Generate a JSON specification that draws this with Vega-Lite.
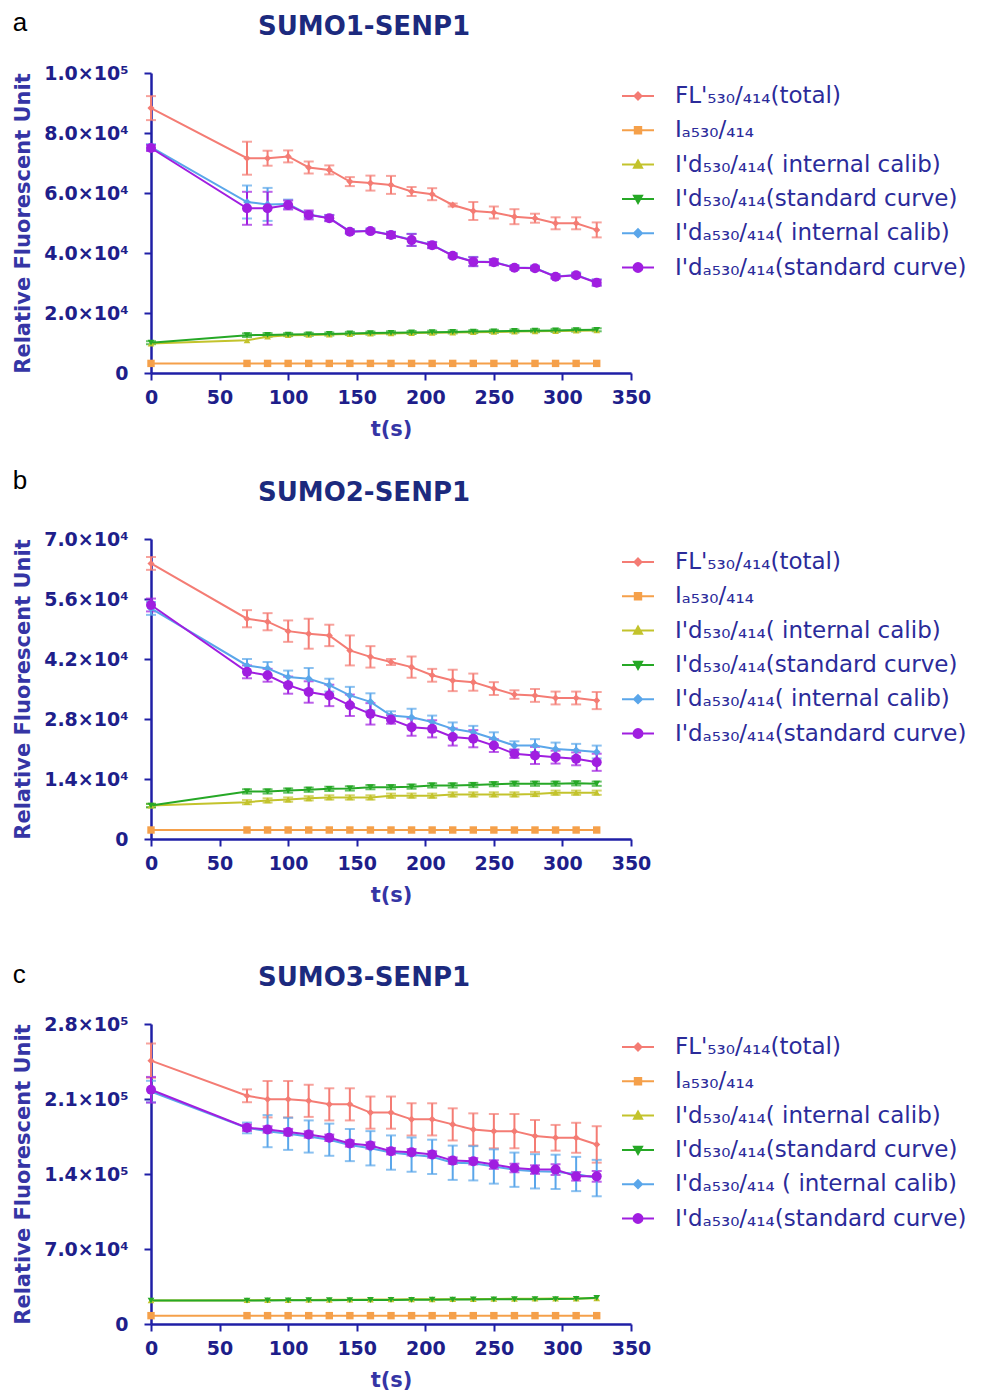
{
"$schema": "https://vega.github.io/schema/vega-lite/v6.json",
"padding": {"left": 12, "right": 0, "top": 10, "bottom": 0},
"background": "white",
"config": {
  "view": {"stroke": null},
  "axis": {"grid": false, "domainColor": "#1f1fa6", "domainWidth": 2.5, "tickColor": "#1f1fa6", "tickWidth": 2, "tickSize": 7, "labelFont": "DejaVu Sans", "labelFontWeight": "bold", "labelFontSize": 19, "labelColor": "#1e1e8a", "titleFont": "DejaVu Sans", "titleFontWeight": "bold", "titleFontSize": 21, "titleColor": "#3535a5"},
  "axisX": {"titlePadding": 11, "labelPadding": 8, "labelFlush": false},
  "axisY": {"titlePadding": 10, "labelPadding": 16},
  "legend": {"title": null, "orient": "right", "offset": -16, "padding": 6, "symbolSize": 1024, "symbolStrokeWidth": 2, "symbolType": "M-1,0L1,0M-0.28,0A0.28,0.28 0 1,0 0.28,0A0.28,0.28 0 1,0 -0.28,0Z", "rowPadding": 5.3, "labelFont": "DejaVu Sans", "labelFontSize": 23, "labelColor": "#2b2b9a", "labelOffset": 20, "labelLimit": 420}
},
"datasets": {
"a": [
{"s":"FL","t":0,"v":88300,"e":4000},{"s":"FL","t":70,"v":71600,"e":5500},{"s":"FL","t":85,"v":71600,"e":2500},{"s":"FL","t":100,"v":72200,"e":2000},{"s":"FL","t":115,"v":68500,"e":2000},{"s":"FL","t":130,"v":67700,"e":1500},{"s":"FL","t":145,"v":63800,"e":1500},{"s":"FL","t":160,"v":63300,"e":2500},{"s":"FL","t":175,"v":62700,"e":3000},{"s":"FL","t":190,"v":60500,"e":1500},{"s":"FL","t":205,"v":59600,"e":2000},{"s":"FL","t":220,"v":56000,"e":500},{"s":"FL","t":235,"v":54000,"e":3000},{"s":"FL","t":250,"v":53500,"e":2000},{"s":"FL","t":265,"v":52100,"e":2500},{"s":"FL","t":280,"v":51600,"e":1500},{"s":"FL","t":295,"v":49900,"e":2000},{"s":"FL","t":310,"v":49900,"e":2000},{"s":"FL","t":325,"v":47700,"e":2500},
{"s":"Ia","t":0,"v":3200,"e":0},{"s":"Ia","t":70,"v":3200,"e":0},{"s":"Ia","t":85,"v":3200,"e":0},{"s":"Ia","t":100,"v":3200,"e":0},{"s":"Ia","t":115,"v":3200,"e":0},{"s":"Ia","t":130,"v":3200,"e":0},{"s":"Ia","t":145,"v":3200,"e":0},{"s":"Ia","t":160,"v":3200,"e":0},{"s":"Ia","t":175,"v":3200,"e":0},{"s":"Ia","t":190,"v":3200,"e":0},{"s":"Ia","t":205,"v":3200,"e":0},{"s":"Ia","t":220,"v":3200,"e":0},{"s":"Ia","t":235,"v":3200,"e":0},{"s":"Ia","t":250,"v":3200,"e":0},{"s":"Ia","t":265,"v":3200,"e":0},{"s":"Ia","t":280,"v":3200,"e":0},{"s":"Ia","t":295,"v":3200,"e":0},{"s":"Ia","t":310,"v":3200,"e":0},{"s":"Ia","t":325,"v":3200,"e":0},
{"s":"Idi","t":0,"v":9800,"e":0},{"s":"Idi","t":70,"v":10900,"e":0},{"s":"Idi","t":85,"v":12100,"e":0},{"s":"Idi","t":100,"v":12600,"e":0},{"s":"Idi","t":115,"v":12700,"e":0},{"s":"Idi","t":130,"v":12800,"e":0},{"s":"Idi","t":145,"v":13000,"e":0},{"s":"Idi","t":160,"v":13100,"e":0},{"s":"Idi","t":175,"v":13200,"e":0},{"s":"Idi","t":190,"v":13300,"e":0},{"s":"Idi","t":205,"v":13400,"e":0},{"s":"Idi","t":220,"v":13500,"e":0},{"s":"Idi","t":235,"v":13600,"e":0},{"s":"Idi","t":250,"v":13700,"e":0},{"s":"Idi","t":265,"v":13800,"e":0},{"s":"Idi","t":280,"v":13900,"e":0},{"s":"Idi","t":295,"v":14000,"e":0},{"s":"Idi","t":310,"v":14100,"e":0},{"s":"Idi","t":325,"v":14200,"e":0},
{"s":"Ids","t":0,"v":10100,"e":500},{"s":"Ids","t":70,"v":12600,"e":600},{"s":"Ids","t":85,"v":12700,"e":600},{"s":"Ids","t":100,"v":12800,"e":500},{"s":"Ids","t":115,"v":12900,"e":500},{"s":"Ids","t":130,"v":13000,"e":500},{"s":"Ids","t":145,"v":13200,"e":500},{"s":"Ids","t":160,"v":13300,"e":500},{"s":"Ids","t":175,"v":13400,"e":500},{"s":"Ids","t":190,"v":13500,"e":500},{"s":"Ids","t":205,"v":13600,"e":500},{"s":"Ids","t":220,"v":13700,"e":500},{"s":"Ids","t":235,"v":13800,"e":500},{"s":"Ids","t":250,"v":13900,"e":500},{"s":"Ids","t":265,"v":14000,"e":500},{"s":"Ids","t":280,"v":14100,"e":500},{"s":"Ids","t":295,"v":14200,"e":500},{"s":"Ids","t":310,"v":14300,"e":500},{"s":"Ids","t":325,"v":14400,"e":500},
{"s":"Idai","t":0,"v":75300,"e":1000},{"s":"Idai","t":70,"v":57000,"e":5500},{"s":"Idai","t":85,"v":56200,"e":5500},{"s":"Idai","t":100,"v":56300,"e":1500},{"s":"Idai","t":115,"v":52800,"e":1000},{"s":"Idai","t":130,"v":51700,"e":1000},{"s":"Idai","t":145,"v":47200,"e":800},{"s":"Idai","t":160,"v":47400,"e":800},{"s":"Idai","t":175,"v":46100,"e":1000},{"s":"Idai","t":190,"v":44400,"e":2000},{"s":"Idai","t":205,"v":42700,"e":1000},{"s":"Idai","t":220,"v":39200,"e":800},{"s":"Idai","t":235,"v":37200,"e":1500},{"s":"Idai","t":250,"v":37000,"e":1000},{"s":"Idai","t":265,"v":35200,"e":800},{"s":"Idai","t":280,"v":35000,"e":800},{"s":"Idai","t":295,"v":32200,"e":800},{"s":"Idai","t":310,"v":32700,"e":800},{"s":"Idai","t":325,"v":30200,"e":1000},
{"s":"Idas","t":0,"v":75000,"e":1000},{"s":"Idas","t":70,"v":54900,"e":5500},{"s":"Idas","t":85,"v":54900,"e":5500},{"s":"Idas","t":100,"v":56000,"e":1500},{"s":"Idas","t":115,"v":52700,"e":1500},{"s":"Idas","t":130,"v":51600,"e":1000},{"s":"Idas","t":145,"v":47100,"e":500},{"s":"Idas","t":160,"v":47300,"e":500},{"s":"Idas","t":175,"v":46000,"e":1000},{"s":"Idas","t":190,"v":44300,"e":2000},{"s":"Idas","t":205,"v":42600,"e":1000},{"s":"Idas","t":220,"v":39100,"e":500},{"s":"Idas","t":235,"v":37100,"e":1500},{"s":"Idas","t":250,"v":36900,"e":1000},{"s":"Idas","t":265,"v":35100,"e":500},{"s":"Idas","t":280,"v":34900,"e":500},{"s":"Idas","t":295,"v":32100,"e":500},{"s":"Idas","t":310,"v":32600,"e":500},{"s":"Idas","t":325,"v":30100,"e":1000}
],
"b": [
{"s":"FL","t":0,"v":64300,"e":1500},{"s":"FL","t":70,"v":51400,"e":2000},{"s":"FL","t":85,"v":50700,"e":2000},{"s":"FL","t":100,"v":48500,"e":2500},{"s":"FL","t":115,"v":47900,"e":3500},{"s":"FL","t":130,"v":47500,"e":2500},{"s":"FL","t":145,"v":44000,"e":3500},{"s":"FL","t":160,"v":42500,"e":2500},{"s":"FL","t":175,"v":41300,"e":700},{"s":"FL","t":190,"v":40100,"e":2500},{"s":"FL","t":205,"v":38200,"e":1500},{"s":"FL","t":220,"v":37000,"e":2500},{"s":"FL","t":235,"v":36600,"e":2000},{"s":"FL","t":250,"v":35100,"e":1500},{"s":"FL","t":265,"v":33700,"e":1000},{"s":"FL","t":280,"v":33500,"e":1500},{"s":"FL","t":295,"v":32900,"e":1500},{"s":"FL","t":310,"v":32900,"e":1500},{"s":"FL","t":325,"v":32300,"e":2000},
{"s":"Ia","t":0,"v":2100,"e":0},{"s":"Ia","t":70,"v":2100,"e":0},{"s":"Ia","t":85,"v":2100,"e":0},{"s":"Ia","t":100,"v":2100,"e":0},{"s":"Ia","t":115,"v":2100,"e":0},{"s":"Ia","t":130,"v":2100,"e":0},{"s":"Ia","t":145,"v":2100,"e":0},{"s":"Ia","t":160,"v":2100,"e":0},{"s":"Ia","t":175,"v":2100,"e":0},{"s":"Ia","t":190,"v":2100,"e":0},{"s":"Ia","t":205,"v":2100,"e":0},{"s":"Ia","t":220,"v":2100,"e":0},{"s":"Ia","t":235,"v":2100,"e":0},{"s":"Ia","t":250,"v":2100,"e":0},{"s":"Ia","t":265,"v":2100,"e":0},{"s":"Ia","t":280,"v":2100,"e":0},{"s":"Ia","t":295,"v":2100,"e":0},{"s":"Ia","t":310,"v":2100,"e":0},{"s":"Ia","t":325,"v":2100,"e":0},
{"s":"Idi","t":0,"v":7800,"e":400},{"s":"Idi","t":70,"v":8600,"e":500},{"s":"Idi","t":85,"v":9000,"e":500},{"s":"Idi","t":100,"v":9200,"e":500},{"s":"Idi","t":115,"v":9500,"e":500},{"s":"Idi","t":130,"v":9700,"e":500},{"s":"Idi","t":145,"v":9700,"e":500},{"s":"Idi","t":160,"v":9700,"e":500},{"s":"Idi","t":175,"v":10100,"e":500},{"s":"Idi","t":190,"v":10100,"e":500},{"s":"Idi","t":205,"v":10100,"e":500},{"s":"Idi","t":220,"v":10400,"e":500},{"s":"Idi","t":235,"v":10400,"e":500},{"s":"Idi","t":250,"v":10400,"e":500},{"s":"Idi","t":265,"v":10400,"e":500},{"s":"Idi","t":280,"v":10500,"e":500},{"s":"Idi","t":295,"v":10800,"e":500},{"s":"Idi","t":310,"v":10800,"e":500},{"s":"Idi","t":325,"v":10800,"e":500},
{"s":"Ids","t":0,"v":7800,"e":400},{"s":"Ids","t":70,"v":11100,"e":500},{"s":"Ids","t":85,"v":11100,"e":500},{"s":"Ids","t":100,"v":11300,"e":500},{"s":"Ids","t":115,"v":11500,"e":500},{"s":"Ids","t":130,"v":11700,"e":500},{"s":"Ids","t":145,"v":11800,"e":500},{"s":"Ids","t":160,"v":12100,"e":500},{"s":"Ids","t":175,"v":12100,"e":500},{"s":"Ids","t":190,"v":12200,"e":500},{"s":"Ids","t":205,"v":12500,"e":500},{"s":"Ids","t":220,"v":12500,"e":500},{"s":"Ids","t":235,"v":12600,"e":500},{"s":"Ids","t":250,"v":12800,"e":500},{"s":"Ids","t":265,"v":12900,"e":500},{"s":"Ids","t":280,"v":12900,"e":500},{"s":"Ids","t":295,"v":12900,"e":500},{"s":"Ids","t":310,"v":13000,"e":500},{"s":"Ids","t":325,"v":12900,"e":500},
{"s":"Idai","t":0,"v":53800,"e":1500},{"s":"Idai","t":70,"v":40500,"e":1500},{"s":"Idai","t":85,"v":39800,"e":1500},{"s":"Idai","t":100,"v":37800,"e":1500},{"s":"Idai","t":115,"v":37400,"e":2500},{"s":"Idai","t":130,"v":35900,"e":1500},{"s":"Idai","t":145,"v":33500,"e":2000},{"s":"Idai","t":160,"v":32000,"e":2000},{"s":"Idai","t":175,"v":28800,"e":1000},{"s":"Idai","t":190,"v":28400,"e":2000},{"s":"Idai","t":205,"v":27300,"e":1500},{"s":"Idai","t":220,"v":25700,"e":1500},{"s":"Idai","t":235,"v":24900,"e":1500},{"s":"Idai","t":250,"v":23400,"e":1500},{"s":"Idai","t":265,"v":21800,"e":1000},{"s":"Idai","t":280,"v":21800,"e":1500},{"s":"Idai","t":295,"v":21000,"e":1500},{"s":"Idai","t":310,"v":20700,"e":1500},{"s":"Idai","t":325,"v":20300,"e":1500},
{"s":"Idas","t":0,"v":54600,"e":1500},{"s":"Idas","t":70,"v":39000,"e":1500},{"s":"Idas","t":85,"v":38200,"e":1500},{"s":"Idas","t":100,"v":35900,"e":2000},{"s":"Idas","t":115,"v":34300,"e":2500},{"s":"Idas","t":130,"v":33500,"e":2500},{"s":"Idas","t":145,"v":31200,"e":2500},{"s":"Idas","t":160,"v":29200,"e":2500},{"s":"Idas","t":175,"v":27900,"e":1000},{"s":"Idas","t":190,"v":26100,"e":2000},{"s":"Idas","t":205,"v":25700,"e":2000},{"s":"Idas","t":220,"v":23800,"e":2000},{"s":"Idas","t":235,"v":23400,"e":2000},{"s":"Idas","t":250,"v":21800,"e":1500},{"s":"Idas","t":265,"v":19900,"e":1000},{"s":"Idas","t":280,"v":19500,"e":2000},{"s":"Idas","t":295,"v":19100,"e":1500},{"s":"Idas","t":310,"v":18700,"e":1500},{"s":"Idas","t":325,"v":17900,"e":2000}
],
"c": [
{"s":"FL","t":0,"v":245800,"e":16000},{"s":"FL","t":70,"v":213000,"e":6000},{"s":"FL","t":85,"v":209800,"e":17000},{"s":"FL","t":100,"v":209800,"e":17000},{"s":"FL","t":115,"v":208300,"e":15000},{"s":"FL","t":130,"v":205000,"e":15000},{"s":"FL","t":145,"v":205000,"e":15000},{"s":"FL","t":160,"v":197300,"e":15000},{"s":"FL","t":175,"v":197300,"e":15000},{"s":"FL","t":190,"v":191000,"e":15000},{"s":"FL","t":205,"v":191000,"e":15000},{"s":"FL","t":220,"v":186300,"e":15000},{"s":"FL","t":235,"v":181600,"e":15000},{"s":"FL","t":250,"v":180000,"e":16000},{"s":"FL","t":265,"v":180000,"e":16000},{"s":"FL","t":280,"v":175400,"e":15000},{"s":"FL","t":295,"v":173800,"e":12000},{"s":"FL","t":310,"v":173800,"e":14000},{"s":"FL","t":325,"v":167600,"e":17000},
{"s":"Ia","t":0,"v":7800,"e":0},{"s":"Ia","t":70,"v":7800,"e":0},{"s":"Ia","t":85,"v":7800,"e":0},{"s":"Ia","t":100,"v":7800,"e":0},{"s":"Ia","t":115,"v":7800,"e":0},{"s":"Ia","t":130,"v":7800,"e":0},{"s":"Ia","t":145,"v":7800,"e":0},{"s":"Ia","t":160,"v":7800,"e":0},{"s":"Ia","t":175,"v":7800,"e":0},{"s":"Ia","t":190,"v":7800,"e":0},{"s":"Ia","t":205,"v":7800,"e":0},{"s":"Ia","t":220,"v":7800,"e":0},{"s":"Ia","t":235,"v":7800,"e":0},{"s":"Ia","t":250,"v":7800,"e":0},{"s":"Ia","t":265,"v":7800,"e":0},{"s":"Ia","t":280,"v":7800,"e":0},{"s":"Ia","t":295,"v":7800,"e":0},{"s":"Ia","t":310,"v":7800,"e":0},{"s":"Ia","t":325,"v":7800,"e":0},
{"s":"Idi","t":0,"v":22000,"e":0},{"s":"Idi","t":70,"v":22200,"e":0},{"s":"Idi","t":85,"v":22300,"e":0},{"s":"Idi","t":100,"v":22400,"e":0},{"s":"Idi","t":115,"v":22500,"e":0},{"s":"Idi","t":130,"v":22600,"e":0},{"s":"Idi","t":145,"v":22700,"e":0},{"s":"Idi","t":160,"v":22800,"e":0},{"s":"Idi","t":175,"v":22900,"e":0},{"s":"Idi","t":190,"v":23000,"e":0},{"s":"Idi","t":205,"v":23100,"e":0},{"s":"Idi","t":220,"v":23200,"e":0},{"s":"Idi","t":235,"v":23300,"e":0},{"s":"Idi","t":250,"v":23400,"e":0},{"s":"Idi","t":265,"v":23500,"e":0},{"s":"Idi","t":280,"v":23600,"e":0},{"s":"Idi","t":295,"v":23700,"e":0},{"s":"Idi","t":310,"v":23800,"e":0},{"s":"Idi","t":325,"v":24000,"e":0},
{"s":"Ids","t":0,"v":21900,"e":0},{"s":"Ids","t":70,"v":21900,"e":0},{"s":"Ids","t":85,"v":22000,"e":0},{"s":"Ids","t":100,"v":22100,"e":0},{"s":"Ids","t":115,"v":22200,"e":0},{"s":"Ids","t":130,"v":22200,"e":0},{"s":"Ids","t":145,"v":22300,"e":0},{"s":"Ids","t":160,"v":22400,"e":0},{"s":"Ids","t":175,"v":22500,"e":0},{"s":"Ids","t":190,"v":22600,"e":0},{"s":"Ids","t":205,"v":22700,"e":0},{"s":"Ids","t":220,"v":22800,"e":0},{"s":"Ids","t":235,"v":22900,"e":0},{"s":"Ids","t":250,"v":23000,"e":0},{"s":"Ids","t":265,"v":23100,"e":0},{"s":"Ids","t":280,"v":23200,"e":0},{"s":"Ids","t":295,"v":23300,"e":0},{"s":"Ids","t":310,"v":23500,"e":0},{"s":"Ids","t":325,"v":24400,"e":0},
{"s":"Idai","t":0,"v":217000,"e":10000},{"s":"Idai","t":70,"v":183000,"e":5000},{"s":"Idai","t":85,"v":180000,"e":15000},{"s":"Idai","t":100,"v":177500,"e":15000},{"s":"Idai","t":115,"v":175000,"e":15000},{"s":"Idai","t":130,"v":172000,"e":15000},{"s":"Idai","t":145,"v":167000,"e":15000},{"s":"Idai","t":160,"v":164000,"e":16000},{"s":"Idai","t":175,"v":160000,"e":16000},{"s":"Idai","t":190,"v":158000,"e":16000},{"s":"Idai","t":205,"v":156000,"e":16000},{"s":"Idai","t":220,"v":150500,"e":16000},{"s":"Idai","t":235,"v":150000,"e":16000},{"s":"Idai","t":250,"v":147000,"e":16000},{"s":"Idai","t":265,"v":144000,"e":16000},{"s":"Idai","t":280,"v":142500,"e":16000},{"s":"Idai","t":295,"v":142000,"e":16000},{"s":"Idai","t":310,"v":140000,"e":16000},{"s":"Idai","t":325,"v":136200,"e":17000},
{"s":"Idas","t":0,"v":218600,"e":12000},{"s":"Idas","t":70,"v":183200,"e":3000},{"s":"Idas","t":85,"v":181600,"e":3000},{"s":"Idas","t":100,"v":179100,"e":3000},{"s":"Idas","t":115,"v":176900,"e":3000},{"s":"Idas","t":130,"v":173800,"e":3000},{"s":"Idas","t":145,"v":168500,"e":3000},{"s":"Idas","t":160,"v":166600,"e":3000},{"s":"Idas","t":175,"v":161300,"e":3000},{"s":"Idas","t":190,"v":160300,"e":3000},{"s":"Idas","t":205,"v":158200,"e":3000},{"s":"Idas","t":220,"v":152500,"e":3000},{"s":"Idas","t":235,"v":151900,"e":3000},{"s":"Idas","t":250,"v":148800,"e":4000},{"s":"Idas","t":265,"v":145600,"e":4000},{"s":"Idas","t":280,"v":144100,"e":4000},{"s":"Idas","t":295,"v":144100,"e":5000},{"s":"Idas","t":310,"v":137800,"e":4000},{"s":"Idas","t":325,"v":137800,"e":5000}
]
},
"resolve": {"scale": {"x": "independent", "y": "independent", "color": "independent"}},
"spacing": 29,
"vconcat": [
{
 "title": {"text": "a", "anchor": "start", "frame": "bounds", "font": "Liberation Sans", "fontSize": 26, "fontWeight": "normal", "color": "#000000", "offset": 0, "dy": 22},
 "resolve": {"scale": {"x": "independent", "y": "independent", "color": "independent"}},
 "vconcat": [{
  "title": {"text": "SUMO1-SENP1", "anchor": "middle", "frame": "group", "font": "DejaVu Sans", "fontSize": 26, "fontWeight": "bold", "color": "#1c2a7e", "offset": 24, "dx": -27},
  "width": 480, "height": 300,
  "data": {"name": "a"},
  "encoding": {
   "x": {"field": "t", "type": "quantitative", "scale": {"domain": [0, 350], "nice": false}, "axis": {"values": [0,50,100,150,200,250,300,350], "title": "t(s)"}},
   "y": {"field": "v", "type": "quantitative", "scale": {"domain": [0, 100000], "nice": false}, "axis": {"values": [0,20000,40000,60000,80000,100000], "title": "Relative Fluorescent Unit", "labelExpr": "datum.value === 0 ? '0' : format(datum.value / pow(10, floor(log(datum.value) / LN10 + 1e-9)), '.1f') + '×10' + (floor(log(datum.value) / LN10 + 1e-9) >= 5 ? '⁵' : '⁴')"}},
   "color": {"field": "s", "type": "nominal", "scale": {"domain": ["FL","Ia","Idi","Ids","Idai","Idas"], "range": ["#f47c74","#f5a04a","#c3c32c","#26a826","#5aa6ea","#a01ee0"]},
    "legend": {"labelExpr": "datum.value==='FL' ? 'FL\\'₅₃₀/₄₁₄(total)' : datum.value==='Ia' ? 'Iₐ₅₃₀/₄₁₄' : datum.value==='Idi' ? 'I\\'d₅₃₀/₄₁₄( internal calib)' : datum.value==='Ids' ? 'I\\'d₅₃₀/₄₁₄(standard curve)' : datum.value==='Idai' ? 'I\\'dₐ₅₃₀/₄₁₄( internal calib)' : 'I\\'dₐ₅₃₀/₄₁₄(standard curve)'",
     "encode": {"symbols": {"update": {
      "shape": {"signal": "datum.value==='FL' ? 'M-1,0L1,0M0,-0.22L0.22,0L0,0.22L-0.22,0Z' : datum.value==='Ia' ? 'M-1,0L1,0M-0.2,-0.2L0.2,-0.2L0.2,0.2L-0.2,0.2Z' : datum.value==='Idi' ? 'M-1,0L1,0M0,-0.25L0.25,0.2L-0.25,0.2Z' : datum.value==='Ids' ? 'M-1,0L1,0M0,0.25L0.25,-0.2L-0.25,-0.2Z' : datum.value==='Idai' ? 'M-1,0L1,0M0,-0.25L0.25,0L0,0.25L-0.25,0Z' : 'M-1,0L1,0M-0.28,0A0.28,0.28 0 1,0 0.28,0A0.28,0.28 0 1,0 -0.28,0Z'"},
      "fill": {"signal": "datum.value==='FL'?'#f47c74':datum.value==='Ia'?'#f5a04a':datum.value==='Idi'?'#c3c32c':datum.value==='Ids'?'#26a826':datum.value==='Idai'?'#5aa6ea':'#a01ee0'"},
      "stroke": {"signal": "datum.value==='FL'?'#f47c74':datum.value==='Ia'?'#f5a04a':datum.value==='Idi'?'#c3c32c':datum.value==='Ids'?'#26a826':datum.value==='Idai'?'#5aa6ea':'#a01ee0'"},
      "opacity": {"value": 1}, "strokeWidth": {"value": 2}}}}}}
  },
  "layer": [
   {"transform": [{"filter": "datum.e > 0"}], "mark": {"type": "errorbar", "ticks": {"size": 10, "thickness": 2}, "thickness": 2}, "encoding": {"yError": {"field": "e"}}},
   {"mark": {"type": "line", "strokeWidth": 2}},
   {"transform": [{"filter": "datum.s==='FL'"}], "mark": {"type": "point", "filled": true, "opacity": 1, "shape": "diamond", "size": 50}},
   {"transform": [{"filter": "datum.s==='Ia'"}], "mark": {"type": "point", "filled": true, "opacity": 1, "shape": "square", "size": 55}},
   {"transform": [{"filter": "datum.s==='Idi'"}], "mark": {"type": "point", "filled": true, "opacity": 1, "shape": "triangle-up", "size": 45}},
   {"transform": [{"filter": "datum.s==='Ids'"}], "mark": {"type": "point", "filled": true, "opacity": 1, "shape": "triangle-down", "size": 45}},
   {"transform": [{"filter": "datum.s==='Idai'"}], "mark": {"type": "point", "filled": true, "opacity": 1, "shape": "diamond", "size": 60}},
   {"transform": [{"filter": "datum.s==='Idas'"}], "mark": {"type": "point", "filled": true, "opacity": 1, "shape": "circle", "size": 100}}
  ]
 }]
},
{
 "spacing": 57,
 "resolve": {"scale": {"x": "independent", "y": "independent", "color": "independent"}},
 "vconcat": [
 {
 "title": {"text": "b", "anchor": "start", "frame": "bounds", "font": "Liberation Sans", "fontSize": 26, "fontWeight": "normal", "color": "#000000", "offset": 0, "dy": 14},
 "resolve": {"scale": {"x": "independent", "y": "independent", "color": "independent"}},
 "vconcat": [{
  "title": {"text": "SUMO2-SENP1", "anchor": "middle", "frame": "group", "font": "DejaVu Sans", "fontSize": 26, "fontWeight": "bold", "color": "#1c2a7e", "offset": 24, "dx": -27},
  "width": 480, "height": 300,
  "data": {"name": "b"},
  "encoding": {
   "x": {"field": "t", "type": "quantitative", "scale": {"domain": [0, 350], "nice": false}, "axis": {"values": [0,50,100,150,200,250,300,350], "title": "t(s)"}},
   "y": {"field": "v", "type": "quantitative", "scale": {"domain": [0, 70000], "nice": false}, "axis": {"values": [0,14000,28000,42000,56000,70000], "title": "Relative Fluorescent Unit", "labelExpr": "datum.value === 0 ? '0' : format(datum.value / pow(10, floor(log(datum.value) / LN10 + 1e-9)), '.1f') + '×10' + (floor(log(datum.value) / LN10 + 1e-9) >= 5 ? '⁵' : '⁴')"}},
   "color": {"field": "s", "type": "nominal", "scale": {"domain": ["FL","Ia","Idi","Ids","Idai","Idas"], "range": ["#f47c74","#f5a04a","#c3c32c","#26a826","#5aa6ea","#a01ee0"]},
    "legend": {"labelExpr": "datum.value==='FL' ? 'FL\\'₅₃₀/₄₁₄(total)' : datum.value==='Ia' ? 'Iₐ₅₃₀/₄₁₄' : datum.value==='Idi' ? 'I\\'d₅₃₀/₄₁₄( internal calib)' : datum.value==='Ids' ? 'I\\'d₅₃₀/₄₁₄(standard curve)' : datum.value==='Idai' ? 'I\\'dₐ₅₃₀/₄₁₄( internal calib)' : 'I\\'dₐ₅₃₀/₄₁₄(standard curve)'",
     "encode": {"symbols": {"update": {
      "shape": {"signal": "datum.value==='FL' ? 'M-1,0L1,0M0,-0.22L0.22,0L0,0.22L-0.22,0Z' : datum.value==='Ia' ? 'M-1,0L1,0M-0.2,-0.2L0.2,-0.2L0.2,0.2L-0.2,0.2Z' : datum.value==='Idi' ? 'M-1,0L1,0M0,-0.25L0.25,0.2L-0.25,0.2Z' : datum.value==='Ids' ? 'M-1,0L1,0M0,0.25L0.25,-0.2L-0.25,-0.2Z' : datum.value==='Idai' ? 'M-1,0L1,0M0,-0.25L0.25,0L0,0.25L-0.25,0Z' : 'M-1,0L1,0M-0.28,0A0.28,0.28 0 1,0 0.28,0A0.28,0.28 0 1,0 -0.28,0Z'"},
      "fill": {"signal": "datum.value==='FL'?'#f47c74':datum.value==='Ia'?'#f5a04a':datum.value==='Idi'?'#c3c32c':datum.value==='Ids'?'#26a826':datum.value==='Idai'?'#5aa6ea':'#a01ee0'"},
      "stroke": {"signal": "datum.value==='FL'?'#f47c74':datum.value==='Ia'?'#f5a04a':datum.value==='Idi'?'#c3c32c':datum.value==='Ids'?'#26a826':datum.value==='Idai'?'#5aa6ea':'#a01ee0'"},
      "opacity": {"value": 1}, "strokeWidth": {"value": 2}}}}}}
  },
  "layer": [
   {"transform": [{"filter": "datum.e > 0"}], "mark": {"type": "errorbar", "ticks": {"size": 10, "thickness": 2}, "thickness": 2}, "encoding": {"yError": {"field": "e"}}},
   {"mark": {"type": "line", "strokeWidth": 2}},
   {"transform": [{"filter": "datum.s==='FL'"}], "mark": {"type": "point", "filled": true, "opacity": 1, "shape": "diamond", "size": 50}},
   {"transform": [{"filter": "datum.s==='Ia'"}], "mark": {"type": "point", "filled": true, "opacity": 1, "shape": "square", "size": 55}},
   {"transform": [{"filter": "datum.s==='Idi'"}], "mark": {"type": "point", "filled": true, "opacity": 1, "shape": "triangle-up", "size": 45}},
   {"transform": [{"filter": "datum.s==='Ids'"}], "mark": {"type": "point", "filled": true, "opacity": 1, "shape": "triangle-down", "size": 45}},
   {"transform": [{"filter": "datum.s==='Idai'"}], "mark": {"type": "point", "filled": true, "opacity": 1, "shape": "diamond", "size": 60}},
   {"transform": [{"filter": "datum.s==='Idas'"}], "mark": {"type": "point", "filled": true, "opacity": 1, "shape": "circle", "size": 100}}
  ]
 }]
 },
 {
 "title": {"text": "c", "anchor": "start", "frame": "bounds", "font": "Liberation Sans", "fontSize": 26, "fontWeight": "normal", "color": "#000000", "offset": 0, "dy": 23},
 "resolve": {"scale": {"x": "independent", "y": "independent", "color": "independent"}},
 "vconcat": [{
  "title": {"text": "SUMO3-SENP1", "anchor": "middle", "frame": "group", "font": "DejaVu Sans", "fontSize": 26, "fontWeight": "bold", "color": "#1c2a7e", "offset": 24, "dx": -27},
  "width": 480, "height": 300,
  "data": {"name": "c"},
  "encoding": {
   "x": {"field": "t", "type": "quantitative", "scale": {"domain": [0, 350], "nice": false}, "axis": {"values": [0,50,100,150,200,250,300,350], "title": "t(s)"}},
   "y": {"field": "v", "type": "quantitative", "scale": {"domain": [0, 280000], "nice": false}, "axis": {"values": [0,70000,140000,210000,280000], "title": "Relative Fluorescent Unit", "labelExpr": "datum.value === 0 ? '0' : format(datum.value / pow(10, floor(log(datum.value) / LN10 + 1e-9)), '.1f') + '×10' + (floor(log(datum.value) / LN10 + 1e-9) >= 5 ? '⁵' : '⁴')"}},
   "color": {"field": "s", "type": "nominal", "scale": {"domain": ["FL","Ia","Idi","Ids","Idai","Idas"], "range": ["#f47c74","#f5a04a","#c3c32c","#26a826","#5aa6ea","#a01ee0"]},
    "legend": {"labelExpr": "datum.value==='FL' ? 'FL\\'₅₃₀/₄₁₄(total)' : datum.value==='Ia' ? 'Iₐ₅₃₀/₄₁₄' : datum.value==='Idi' ? 'I\\'d₅₃₀/₄₁₄( internal calib)' : datum.value==='Ids' ? 'I\\'d₅₃₀/₄₁₄(standard curve)' : datum.value==='Idai' ? 'I\\'dₐ₅₃₀/₄₁₄ ( internal calib)' : 'I\\'dₐ₅₃₀/₄₁₄(standard curve)'",
     "encode": {"symbols": {"update": {
      "shape": {"signal": "datum.value==='FL' ? 'M-1,0L1,0M0,-0.22L0.22,0L0,0.22L-0.22,0Z' : datum.value==='Ia' ? 'M-1,0L1,0M-0.2,-0.2L0.2,-0.2L0.2,0.2L-0.2,0.2Z' : datum.value==='Idi' ? 'M-1,0L1,0M0,-0.25L0.25,0.2L-0.25,0.2Z' : datum.value==='Ids' ? 'M-1,0L1,0M0,0.25L0.25,-0.2L-0.25,-0.2Z' : datum.value==='Idai' ? 'M-1,0L1,0M0,-0.25L0.25,0L0,0.25L-0.25,0Z' : 'M-1,0L1,0M-0.28,0A0.28,0.28 0 1,0 0.28,0A0.28,0.28 0 1,0 -0.28,0Z'"},
      "fill": {"signal": "datum.value==='FL'?'#f47c74':datum.value==='Ia'?'#f5a04a':datum.value==='Idi'?'#c3c32c':datum.value==='Ids'?'#26a826':datum.value==='Idai'?'#5aa6ea':'#a01ee0'"},
      "stroke": {"signal": "datum.value==='FL'?'#f47c74':datum.value==='Ia'?'#f5a04a':datum.value==='Idi'?'#c3c32c':datum.value==='Ids'?'#26a826':datum.value==='Idai'?'#5aa6ea':'#a01ee0'"},
      "opacity": {"value": 1}, "strokeWidth": {"value": 2}}}}}}
  },
  "layer": [
   {"transform": [{"filter": "datum.e > 0"}], "mark": {"type": "errorbar", "ticks": {"size": 10, "thickness": 2}, "thickness": 2}, "encoding": {"yError": {"field": "e"}}},
   {"mark": {"type": "line", "strokeWidth": 2}},
   {"transform": [{"filter": "datum.s==='FL'"}], "mark": {"type": "point", "filled": true, "opacity": 1, "shape": "diamond", "size": 50}},
   {"transform": [{"filter": "datum.s==='Ia'"}], "mark": {"type": "point", "filled": true, "opacity": 1, "shape": "square", "size": 55}},
   {"transform": [{"filter": "datum.s==='Idi'"}], "mark": {"type": "point", "filled": true, "opacity": 1, "shape": "triangle-up", "size": 45}},
   {"transform": [{"filter": "datum.s==='Ids'"}], "mark": {"type": "point", "filled": true, "opacity": 1, "shape": "triangle-down", "size": 45}},
   {"transform": [{"filter": "datum.s==='Idai'"}], "mark": {"type": "point", "filled": true, "opacity": 1, "shape": "diamond", "size": 60}},
   {"transform": [{"filter": "datum.s==='Idas'"}], "mark": {"type": "point", "filled": true, "opacity": 1, "shape": "circle", "size": 100}}
  ]
 }]
 }
 ]
}
]
}
